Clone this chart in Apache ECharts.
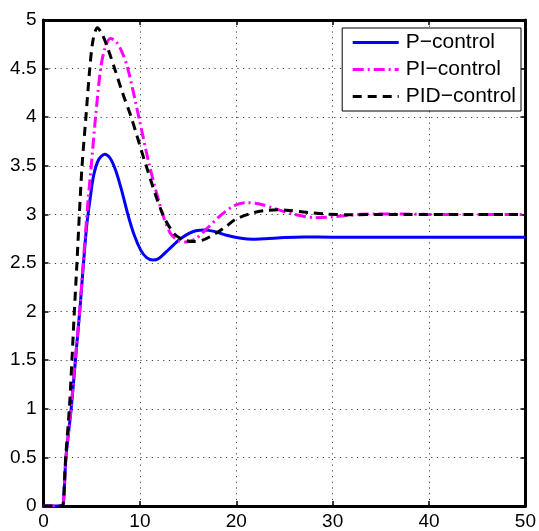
<!DOCTYPE html>
<html>
<head>
<meta charset="utf-8">
<script src="https://cdn.jsdelivr.net/npm/echarts@6/dist/echarts.min.js"></script>
<style>
html,body{margin:0;padding:0;background:#fff;}
#c{width:539px;height:531px;}
</style>
</head>
<body>
<div id="c"></div>
<script>
var seriesNames = ['P\u2212control', 'PI\u2212control', 'PID\u2212control'];
var xTicks = [0, 10, 20, 30, 40, 50];
var yTicks = [0, 0.5, 1, 1.5, 2, 2.5, 3, 3.5, 4, 4.5, 5];

var pControl = [[0,0],[1.9,0],[2,0],[2.33,0.5],[2.87,1],[3.4,1.6],[3.8,2.05],[4.15,2.5],[4.5,2.9],[4.85,3.17],[5.2,3.4],[5.7,3.56],[6.35,3.62],[6.9,3.58],[7.5,3.45],[8.1,3.25],[8.75,3.0],[9.4,2.79],[10.1,2.63],[10.7,2.555],[11.33,2.53],[12,2.55],[13,2.64],[14.1,2.74],[15,2.8],[15.8,2.832],[16.7,2.84],[17.7,2.825],[19,2.785],[20.5,2.755],[21.7,2.745],[23,2.75],[25,2.762],[27,2.768],[30,2.766],[35,2.765],[50,2.765]];

var piControl = [[0,0],[1.9,0],[2,0],[2.33,0.5],[2.85,1],[3.3,1.5],[3.75,2],[4.12,2.5],[4.63,3.15],[5.0,3.55],[5.4,4.0],[5.93,4.5],[6.4,4.72],[6.95,4.81],[7.5,4.78],[8.1,4.68],[8.75,4.5],[9.89,4.0],[11.0,3.5],[12.37,3.0],[13.2,2.8],[14.0,2.73],[14.8,2.715],[15.8,2.75],[17,2.86],[18.5,3.0],[19.8,3.09],[21,3.12],[22.3,3.11],[24,3.06],[26,3.0],[28.2,2.966],[30,2.975],[32,2.995],[34.4,3.004],[37,3.003],[40,3.0],[50,3.0]];

var pidControl = [[0,0],[1.9,0],[2,0],[2.3,0.5],[2.68,1],[2.95,1.5],[3.2,2],[3.47,2.5],[3.72,3.0],[4.0,3.5],[4.4,4.0],[4.8,4.5],[5.15,4.8],[5.59,4.92],[6.1,4.85],[6.7,4.7],[7.38,4.5],[8.2,4.25],[9.1,4.0],[10.65,3.5],[12.37,3.0],[13.57,2.8],[14.5,2.74],[15.46,2.72],[16.5,2.735],[17.8,2.8],[19,2.88],[19.94,2.95],[21.5,3.01],[23,3.04],[24.3,3.047],[25.5,3.04],[27.5,3.02],[29.4,3.003],[32,2.996],[35,3.0],[50,3.0]];

var FONT = 'Liberation Sans, Arial, Helvetica, sans-serif';
var chart = echarts.init(document.getElementById('c'), null, {renderer: 'canvas'});

function axisBase(pos, show) {
  return {
    type: 'value',
    position: pos,
    axisLine: {show: true, onZero: false, lineStyle: {color: '#000', width: 3}},
    axisTick: {show: true, inside: true, length: 5, lineStyle: {color: '#000', width: 1.5}},
    axisLabel: {show: show, color: '#000', fontSize: 19, fontFamily: FONT},
    splitLine: {show: false}
  };
}

var gridLine = {show: true, lineStyle: {color: '#000', opacity: 0.75, width: 1, type: [1.2, 4.5]}};

var x0 = axisBase('bottom', true);
x0.min = xTicks[0]; x0.max = xTicks[xTicks.length-1]; x0.interval = xTicks[1]-xTicks[0];
x0.axisLabel.margin = 6;
x0.splitLine = gridLine;
var x1 = axisBase('top', false);
x1.min = x0.min; x1.max = x0.max; x1.interval = x0.interval;

var y0 = axisBase('left', true);
y0.min = yTicks[0]; y0.max = yTicks[yTicks.length-1]; y0.interval = yTicks[1]-yTicks[0];
y0.axisLabel.margin = 7;
y0.splitLine = gridLine;
var y1 = axisBase('right', false);
y1.min = y0.min; y1.max = y0.max; y1.interval = y0.interval;

var lineStyles = [
  {color: '#0000ff', width: 3, type: 'solid'},
  {color: '#ff00ff', width: 3, type: [11, 4, 2, 4]},
  {color: '#000000', width: 3, type: [9, 6]}
];

chart.setOption({
  animation: false,
  backgroundColor: '#fff',
  grid: {left: 43.5, right: 11, top: 20, bottom: 25, containLabel: false},
  xAxis: [x0, x1],
  yAxis: [y0, y1],
  legend: {
    show: true,
    orient: 'vertical',
    right: 18,
    top: 28,
    padding: [4, 5, 4, 9],
    itemWidth: 46,
    itemHeight: 20,
    itemGap: 6,
    backgroundColor: '#fff',
    borderColor: '#000',
    borderWidth: 1,
    itemStyle: {opacity: 0, borderWidth: 0},
    lineStyle: {width: 3},
    textStyle: {color: '#000', fontSize: 21, fontFamily: FONT, padding: [0, 0, 0, 2]},
    data: seriesNames.map(function (n, i) {
      return {name: n, lineStyle: lineStyles[i]};
    })
  },
  series: [
    {name: seriesNames[0], type: 'line', data: pControl, showSymbol: false, symbol: 'none', smooth: 0.3,
     lineStyle: lineStyles[0], itemStyle: {color: '#0000ff'}},
    {name: seriesNames[1], type: 'line', data: piControl, showSymbol: false, symbol: 'none', smooth: 0.3,
     lineStyle: lineStyles[1], itemStyle: {color: '#ff00ff'}},
    {name: seriesNames[2], type: 'line', data: pidControl, showSymbol: false, symbol: 'none', smooth: 0.3,
     lineStyle: lineStyles[2], itemStyle: {color: '#000000'}}
  ]
});
</script>
</body>
</html>
